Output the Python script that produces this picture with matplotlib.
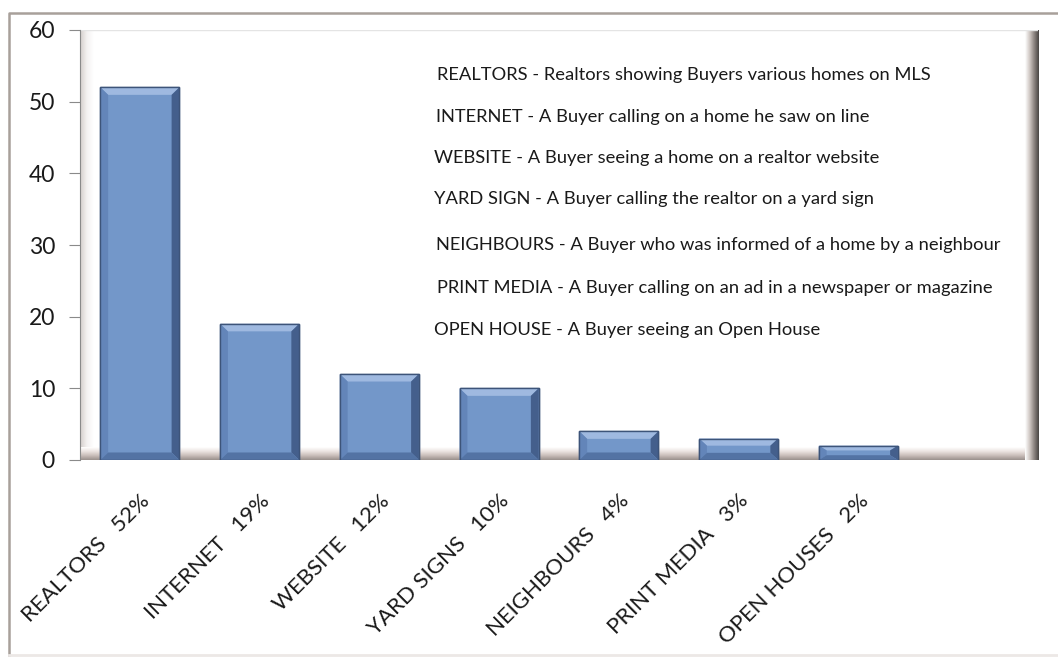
import numpy as np
import matplotlib
matplotlib.use("Agg")
import matplotlib.pyplot as plt
from matplotlib.patches import Polygon, Rectangle
from matplotlib.lines import Line2D

plt.rcParams['font.family'] = ['Lato', 'DejaVu Sans']

categories = ['REALTORS', 'INTERNET', 'WEBSITE', 'YARD SIGNS',
              'NEIGHBOURS', 'PRINT MEDIA', 'OPEN HOUSES']
shares = [52, 19, 12, 10, 4, 3, 2]
y_ticks = [0, 10, 20, 30, 40, 50, 60]
notes = [
    'REALTORS - Realtors showing Buyers various homes on MLS',
    'INTERNET - A Buyer calling on a home he saw on line',
    'WEBSITE - A Buyer seeing a home on a realtor website',
    'YARD SIGN - A Buyer calling the realtor on a yard sign',
    'NEIGHBOURS - A Buyer who was informed of a home by a neighbour',
    'PRINT MEDIA - A Buyer calling on an ad in a newspaper or magazine',
    'OPEN HOUSE - A Buyer seeing an Open House',
]

W, H = 1058, 657
fig = plt.figure(figsize=(W / 100, H / 100), dpi=100)

# outer chart frame (left and top visible, bottom faint)
fx0, fy0, fy1 = 9 / W, 2 / H, 1 - 13 / H
fig.lines.append(Line2D([fx0, fx0, 1], [fy0, fy1, fy1], transform=fig.transFigure,
                        color='#a8a09a', lw=1.8))
fig.lines.append(Line2D([fx0, 1], [fy0, fy0], transform=fig.transFigure,
                        color='#ece8e6', lw=2))

left, right, top, bottom = 80, 1038, 30, 460
ax = fig.add_axes([left / W, 1 - bottom / H, (right - left) / W, (bottom - top) / H])

# wall shading: left edge, floor and right side
cm = matplotlib.colors.LinearSegmentedColormap.from_list
grad = np.linspace(0, 1, 64)
ax.imshow(grad[None, :], cmap=cm('l', ['#d4cecb', '#f4f2f1', '#ffffff']),
          extent=[0, 0.014, 0, 1], transform=ax.transAxes, aspect='auto', zorder=0)
ax.imshow(grad[:, None], cmap=cm('f', ['#ffffff', '#ebe3e0', '#c8bcb8', '#9a908c']),
          extent=[0, 1, 0, 0.03], transform=ax.transAxes, aspect='auto',
          origin='upper', zorder=0)
ax.imshow(grad[None, :], cmap=cm('r', ['#ffffff', '#d0c8c4', '#8c8480', '#4a4644']),
          extent=[0.986, 1, 0, 1], transform=ax.transAxes, aspect='auto', zorder=0)
ax.axhline(60, color='#e4e4e4', lw=1, zorder=0)

x = np.arange(len(categories))
bars = ax.bar(x, shares, width=0.66, color='#7397c9', edgecolor='#3d5479',
              lw=1, zorder=2)

# bevel faces built from each bar's geometry
dx, dy = 0.065, 1.05
for b in bars:
    x0, x1, h = b.get_x(), b.get_x() + b.get_width(), b.get_height()
    d = min(dy, h / 3)
    faces = [
        ([(x0, h), (x1, h), (x1 - dx, h - d), (x0 + dx, h - d)], '#9fb9e0'),
        ([(x0, 0), (x0, h), (x0 + dx, h - d), (x0 + dx, d)], '#6385b9'),
        ([(x1, 0), (x1, h), (x1 - dx, h - d), (x1 - dx, d)], '#445f8c'),
        ([(x0, 0), (x1, 0), (x1 - dx, d), (x0 + dx, d)], '#5373a4'),
    ]
    for pts, c in faces:
        ax.add_patch(Polygon(pts, closed=True, facecolor=c, edgecolor='none', zorder=3))
    ax.add_patch(Rectangle((x0, 0), x1 - x0, h, fill=False, edgecolor='#3d5479',
                           lw=1, zorder=4))

ax.set_xlim(-0.5, 7.5)
ax.set_ylim(0, 60)
ax.set_yticks(y_ticks)
ax.tick_params(axis='y', length=8, color='#8a8a8a', pad=10, labelsize=16.5,
               labelcolor='#1a1a1a')
ax.set_xticks(x)
ax.set_xticklabels([f'{c}   {s}%' for c, s in zip(categories, shares)],
                   rotation=45, ha='right', va='top', rotation_mode='anchor',
                   fontsize=16, color='#1a1a1a')
ax.tick_params(axis='x', length=0, pad=22)
for s in ['top', 'right', 'bottom']:
    ax.spines[s].set_visible(False)
ax.spines['left'].set_color('#8a8a8a')

note_y = [75, 117, 158, 199, 245, 288, 330]
note_x = [437, 436, 434, 434, 436, 437, 434]
for t, yy, xx in zip(notes, note_y, note_x):
    ax.text((xx - left) / (right - left), (bottom - yy) / (bottom - top), t,
            transform=ax.transAxes, ha='left', va='center', fontsize=13.2,
            color='#1a1a1a')

fig.savefig('out.png', dpi=100)
